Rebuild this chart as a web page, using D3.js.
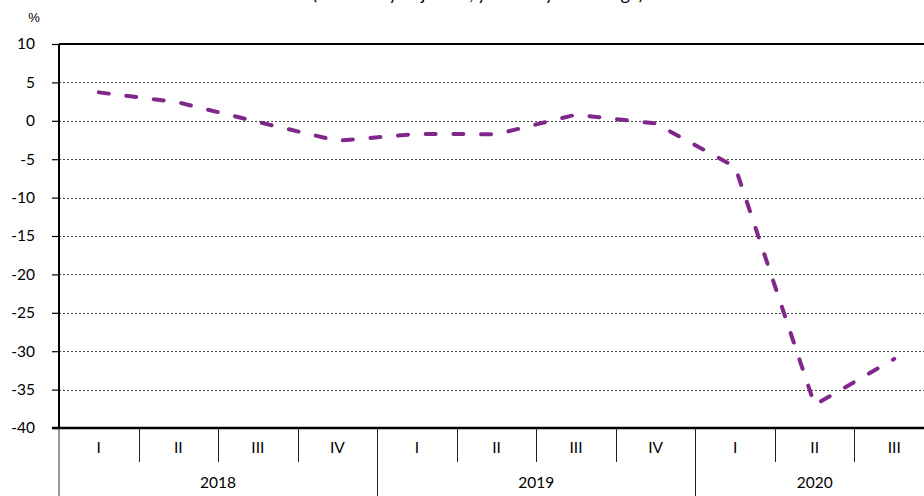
<!DOCTYPE html>
<html>
<head>
<meta charset="utf-8">
<script src="https://cdn.jsdelivr.net/npm/d3@7"></script>
<style>
  html, body { margin: 0; padding: 0; background: #fff; overflow: hidden; }
  svg { display: block; }
</style>
</head>
<body>
<svg id="chart" width="924" height="496"></svg>
<script>
const quarters = ["I","II","III","IV","I","II","III","IV","I","II","III"];
const years = [
  { label: "2018", start: 0, end: 4 },
  { label: "2019", start: 4, end: 8 },
  { label: "2020", start: 8, end: 11 }
];
const values = [3.7, 2.4, -0.15, -2.6, -1.7, -1.75, 0.8, -0.35, -6.0, -37.0, -31.0];
const yTicks = [10, 5, 0, -5, -10, -15, -20, -25, -30, -35, -40];
const gridValues = [5, 0, -5, -10, -15, -20, -25, -30, -35];
const chartTitle = "(seasonally adjusted, year-on-year change)";

(function () {
const svg = d3.select("#chart");
const pLeft = 59, pRight = 934, pTop = 44, pBottom = 428;

const x = d3.scaleBand().domain(d3.range(quarters.length)).range([pLeft, pRight]).padding(0);
const y = d3.scaleLinear().domain([-40, 10]).range([pBottom, pTop]);
const xEdge = i => (i >= quarters.length ? pRight : x(i));

// title (clipped at top edge as in the reference)
svg.append("text").attr("x", 478).attr("y", 0)
  .attr("text-anchor", "middle")
  .style("font-family", "Lato, sans-serif").style("font-size", "18px").attr("fill", "#000")
  .text(chartTitle);

// % label
svg.append("text").attr("x", 34).attr("y", 22).attr("text-anchor", "middle")
  .style("font-family", "'Liberation Sans', Arial, sans-serif").style("font-size", "13px")
  .text("%");

// gridlines
svg.append("g").selectAll("line").data(gridValues).join("line")
  .attr("x1", pLeft).attr("x2", 924)
  .attr("y1", d => Math.round(y(d)) + 0.5).attr("y2", d => Math.round(y(d)) + 0.5)
  .attr("stroke", "#444").attr("stroke-width", 1).attr("stroke-dasharray", "2,2");

// y axis
const yAxis = d3.axisLeft(y).tickValues(yTicks).tickSize(7).tickPadding(17).tickFormat(d => String(d));
const gy = svg.append("g").attr("transform", `translate(${pLeft},0)`).call(yAxis);
gy.select(".domain").remove();
gy.selectAll(".tick line").attr("stroke", "#000").attr("stroke-width", 1.2);
gy.selectAll(".tick text").style("font-family", "Lato, sans-serif").style("font-size", "15.5px").attr("fill", "#000");

// frame
svg.append("line").attr("x1", pLeft).attr("x2", 924).attr("y1", pTop).attr("y2", pTop)
  .attr("stroke", "#000").attr("stroke-width", 2);
svg.append("line").attr("x1", 52).attr("x2", 924).attr("y1", pBottom).attr("y2", pBottom)
  .attr("stroke", "#000").attr("stroke-width", 2.5);
svg.append("line").attr("x1", pLeft).attr("x2", pLeft).attr("y1", pTop).attr("y2", pBottom)
  .attr("stroke", "#000").attr("stroke-width", 2);
svg.append("line").attr("x1", pLeft).attr("x2", pLeft).attr("y1", pBottom).attr("y2", 496)
  .attr("stroke", "#333").attr("stroke-width", 1);

// category axis separators
const yearStarts = new Set(years.map(d => d.start));
const seps = d3.range(1, quarters.length + 1);
svg.append("g").selectAll("line").data(seps).join("line")
  .attr("x1", i => Math.round(xEdge(i)) + 0.5)
  .attr("x2", i => Math.round(xEdge(i)) + 0.5)
  .attr("y1", pBottom)
  .attr("y2", i => yearStarts.has(i) ? 496 : 462)
  .attr("stroke", "#222").attr("stroke-width", 1);

svg.append("g").selectAll("text").data(quarters).join("text")
  .attr("x", (d, i) => x(i) + x.bandwidth() / 2)
  .attr("y", 453)
  .attr("text-anchor", "middle")
  .style("font-family", "Lato, sans-serif").style("font-size", "15.5px").attr("fill", "#000")
  .text(d => d);

svg.append("g").selectAll("text").data(years).join("text")
  .attr("x", d => (xEdge(d.start) + xEdge(d.end)) / 2)
  .attr("y", 488)
  .attr("text-anchor", "middle")
  .style("font-family", "Lato, sans-serif").style("font-size", "15.5px").attr("fill", "#000")
  .text(d => d.label);

// line
const line = d3.line()
  .x((d, i) => x(i) + x.bandwidth() / 2)
  .y(d => y(d))
  .curve(d3.curveLinear);
svg.append("path").datum(values)
  .attr("d", line)
  .attr("fill", "none")
  .attr("stroke", "#80288a")
  .attr("stroke-width", 4)
  .attr("stroke-linecap", "round")
  .attr("stroke-linejoin", "round")
  .attr("stroke-dasharray", "10,17.7");
})();
</script>
</body>
</html>
